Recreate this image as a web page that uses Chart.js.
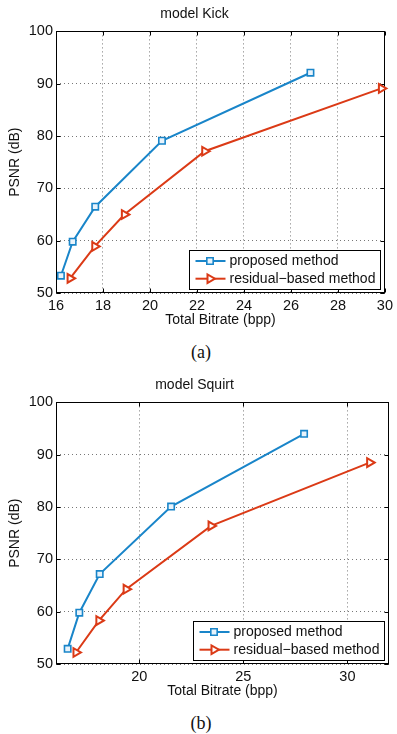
<!DOCTYPE html>
<html>
<head>
<meta charset="utf-8">
<script src="https://cdn.jsdelivr.net/npm/chart.js@4.4.0/dist/chart.umd.min.js"></script>
<style>
body{margin:0;background:#fff;width:397px;height:734px;position:relative;overflow:hidden;}
.plot{position:absolute;left:0;width:397px;height:329px;}
.cap{position:absolute;left:201px;transform:translate(-50%,-50%);font-family:"Liberation Serif",serif;font-size:18px;color:#111;}
</style>
</head>
<body>
<div class="plot" style="top:0"><canvas id="kickCanvas" width="397" height="329"></canvas></div>
<div class="cap" style="top:352px">(a)</div>
<div class="plot" style="top:371px"><canvas id="squirtCanvas" width="397" height="329"></canvas></div>
<div class="cap" style="top:723px">(b)</div>
<script>
// data
const seriesNames = ["proposed method", "residual\u2212based method"];
const kickProposedX = [16.21, 16.71, 17.67, 20.51, 26.83];
const kickProposedY = [53.3, 59.8, 66.5, 79.1, 92.1];
const kickResidualX = [16.60, 17.65, 18.91, 22.33, 29.85];
const kickResidualY = [52.8, 58.9, 65.0, 77.1, 89.1];
const squirtProposedX = [16.56, 17.12, 18.10, 21.53, 27.92];
const squirtProposedY = [52.9, 59.8, 67.2, 80.1, 94.0];
const squirtResidualX = [16.96, 18.06, 19.37, 23.45, 31.07];
const squirtResidualY = [52.2, 58.3, 64.3, 76.4, 88.5];
const kickXTicks = [16, 18, 20, 22, 24, 26, 28, 30];
const squirtXTicks = [20, 25, 30];
const psnrTicks = [50, 60, 70, 80, 90, 100];

const blue = '#1985c9';
const red = '#db3a16';
const font = '"Liberation Sans", Arial, sans-serif';

function pts(xs, ys) {
  return xs.map((x, i) => ({x: x, y: ys[i]}));
}

//Calls: none
//Draws the black box round the plot and the inward tick marks
const framePlugin = {
  id: 'frame',
  beforeDatasetsDraw(chart) {
    const a = chart.chartArea, ctx = chart.ctx;
    const L = Math.round(a.left) + 0.5, R = Math.round(a.right) - 0.5;
    const T = Math.round(a.top) + 0.5, B = Math.round(a.bottom) - 0.5;
    ctx.save();
    ctx.strokeStyle = '#000';
    ctx.lineWidth = 1;
    ctx.beginPath();
    chart.scales.x.ticks.forEach(t => {
      const px = Math.round(chart.scales.x.getPixelForValue(t.value)) + 0.5;
      ctx.moveTo(px, B); ctx.lineTo(px, B - 4);
      ctx.moveTo(px, T); ctx.lineTo(px, T + 4);
    });
    chart.scales.y.ticks.forEach(t => {
      const py = Math.round(chart.scales.y.getPixelForValue(t.value)) + 0.5;
      ctx.moveTo(L, py); ctx.lineTo(L + 4, py);
      ctx.moveTo(R, py); ctx.lineTo(R - 4, py);
    });
    ctx.stroke();
    ctx.strokeRect(L, T, R - L, B - T);
    ctx.restore();
  }
};

//Calls: none
//Boxed legend in the lower right corner, line sample with the marker in the middle
const legendPlugin = {
  id: 'boxLegend',
  afterDatasetsDraw(chart) {
    const a = chart.chartArea, ctx = chart.ctx;
    const sets = chart.data.datasets;
    ctx.save();
    ctx.font = '14px ' + font;
    const textW = Math.max(...sets.map(d => ctx.measureText(d.label).width));
    const w = Math.round(40 + textW + 5), h = 39;
    const x0 = Math.round(a.right - 5 - w) + 0.5;
    const y0 = Math.round(a.bottom - 4.5 - h) + 0.5;
    ctx.fillStyle = '#fff';
    ctx.fillRect(x0, y0, w, h);
    ctx.strokeStyle = '#000';
    ctx.lineWidth = 1;
    ctx.strokeRect(x0, y0, w, h);
    sets.forEach((d, i) => {
      const y = y0 + 10.5 + i * 17.7;
      ctx.strokeStyle = d.borderColor;
      ctx.lineWidth = d.borderWidth;
      ctx.beginPath();
      ctx.moveTo(x0 + 6, y);
      ctx.lineTo(x0 + 36, y);
      ctx.stroke();
      ctx.fillStyle = d.pointBackgroundColor;
      ctx.lineWidth = d.pointBorderWidth;
      Chart.helpers.drawPoint(ctx, {
        pointStyle: d.pointStyle, rotation: d.pointRotation || 0,
        radius: d.pointRadius, borderWidth: d.pointBorderWidth
      }, x0 + 20.5, y);
      ctx.fillStyle = '#111';
      ctx.textBaseline = 'middle';
      ctx.textAlign = 'left';
      ctx.fillText(d.label, x0 + 40, y + 0.5);
    });
    ctx.restore();
  }
};

function makeChart(canvasId, titleText, xMin, xMax, xTicks, propX, propY, resX, resY) {
  return new Chart(document.getElementById(canvasId), {
    type: 'line',
    data: {
      datasets: [{
        label: seriesNames[0],
        data: pts(propX, propY),
        borderColor: blue,
        borderWidth: 2,
        pointStyle: 'rect',
        pointRadius: 4.5,
        pointBorderWidth: 1.6,
        pointBorderColor: blue,
        pointBackgroundColor: '#e8f3fb',
        clip: false
      }, {
        label: seriesNames[1],
        data: pts(resX, resY),
        borderColor: red,
        borderWidth: 2,
        pointStyle: 'triangle',
        pointRotation: 90,
        pointRadius: 5,
        pointBorderWidth: 2,
        pointBorderColor: red,
        pointBackgroundColor: '#fff',
        clip: false
      }]
    },
    options: {
      responsive: false,
      animation: false,
      layout: {padding: {left: 0, right: 8, top: 0, bottom: 0}},
      plugins: {
        legend: {display: false},
        tooltip: {enabled: false},
        title: {
          display: true,
          text: titleText,
          color: '#111',
          font: {family: font, size: 14, weight: 'normal'},
          padding: {top: 6, bottom: 8.6}
        }
      },
      scales: {
        x: {
          type: 'linear',
          min: xMin,
          max: xMax,
          afterBuildTicks: s => { s.ticks = xTicks.map(v => ({value: v})); },
          afterFit: s => { s.height = 36; },
          grid: {color: '#777', lineWidth: 1, drawTicks: false},
          border: {display: false, dash: [1, 3]},
          ticks: {color: '#111', font: {family: font, size: 14.5}, padding: 4, maxRotation: 0, autoSkip: false},
          title: {display: true, text: 'Total Bitrate (bpp)', color: '#111',
                  font: {family: font, size: 14}, padding: {top: 0, bottom: 0}}
        },
        y: {
          type: 'linear',
          min: 50,
          max: 100,
          afterBuildTicks: s => { s.ticks = psnrTicks.map(v => ({value: v})); },
          afterFit: s => { s.width = 56; },
          grid: {color: '#777', lineWidth: 1, drawTicks: false},
          border: {display: false, dash: [1, 3]},
          ticks: {color: '#111', font: {family: font, size: 14.5}, padding: 3},
          title: {display: true, text: 'PSNR (dB)', color: '#111',
                  font: {family: font, size: 14}, padding: {top: 7, bottom: 0}}
        }
      }
    },
    plugins: [framePlugin, legendPlugin]
  });
}

makeChart('kickCanvas', 'model Kick', 16, 30, kickXTicks,
  kickProposedX, kickProposedY, kickResidualX, kickResidualY);
makeChart('squirtCanvas', 'model Squirt', 16, 32, squirtXTicks,
  squirtProposedX, squirtProposedY, squirtResidualX, squirtResidualY);
</script>
</body>
</html>
